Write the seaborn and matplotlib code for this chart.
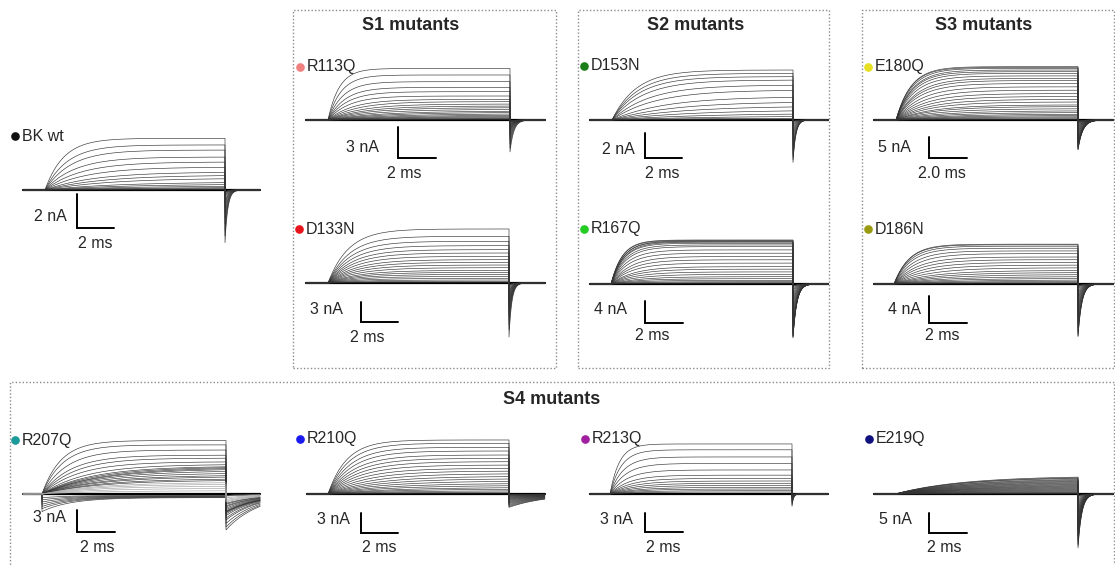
import numpy as np
import pandas as pd
import matplotlib
matplotlib.use("Agg")
import matplotlib.pyplot as plt
import seaborn as sns
from matplotlib.patches import Rectangle

# ---- data (steady-state current per sweep, nA; activation tau, ms) ----
bk_amp = [3.04, 2.65, 2.35, 1.94, 1.65, 1.35, 1.06, 0.88, 0.70, 0.47, 0.35, 0.24, 0.16, 0.10, 0.05, 0.02]
bk_tau = [1.0, 1.2, 1.4, 1.6, 1.9, 2.2, 2.6, 3.0, 3.4, 3.8, 4.2, 4.5, 5.0, 5.0, 5.0, 5.0]

r113q_amp = [5.0, 4.37, 3.72, 3.17, 2.75, 2.33, 2.0, 1.78, 1.55, 1.36, 1.2, 1.04, 0.87, 0.75,
             0.61, 0.49, 0.39, 0.29, 0.19, 0.13, 0.07]
r113q_tau = [0.6, 0.7, 0.8, 0.9, 1.0, 1.1, 1.3, 1.5, 1.7, 1.9, 2.1, 2.4, 2.7, 3.0, 3.3, 3.6,
             4.0, 4.0, 4.0, 4.0, 4.0]

d133n_amp = [8.1, 7.0, 6.25, 5.6, 5.0, 4.5, 4.0, 3.5, 3.1, 2.7, 2.3, 1.9, 1.6, 1.3, 1.0, 0.7,
             0.45, 0.25, 0.1]
d133n_tau = [1.1, 1.15, 1.2, 1.25, 1.3, 1.35, 1.4, 1.45, 1.5, 1.55, 1.6, 1.65, 1.7, 1.75, 1.8,
             1.8, 1.8, 1.8, 1.8]

d153n_amp = [4.0, 3.73, 3.47, 3.2, 2.8, 2.4, 1.87, 1.47, 1.12, 0.8, 0.53, 0.32, 0.16, 0.08]
d153n_tau = [1.3, 1.4, 1.5, 1.7, 2.0, 2.3, 2.8, 3.2, 3.6, 4.0, 4.5, 5.0, 5.0, 5.0]

r167q_amp = [8.0, 7.9, 7.8, 7.7, 7.6, 7.4, 7.1, 6.8, 6.2, 5.6, 5.0, 4.4, 3.8, 3.15, 2.7, 2.2,
             1.76, 1.33, 0.97, 0.67, 0.42, 0.24, 0.12]
r167q_tau = [0.6, 0.6, 0.65, 0.65, 0.7, 0.7, 0.75, 0.8, 0.85, 0.9, 1.0, 1.05, 1.1, 1.2, 1.25,
             1.3, 1.4, 1.5, 1.5, 1.5, 1.5, 1.5, 1.5]

e180q_amp = [12.7, 12.5, 12.3, 11.9, 11.5, 11.1, 10.5, 9.9, 9.4, 8.7, 7.9, 7.1, 6.3, 5.6, 4.9,
             4.3, 3.6, 3.2, 2.7, 2.2, 1.8, 1.4, 1.1, 0.8, 0.55, 0.3, 0.15]
e180q_tau = [0.8, 0.8, 0.85, 0.9, 0.9, 0.95, 1.0, 1.1, 1.15, 1.2, 1.3, 1.4, 1.5, 1.6, 1.7,
             1.8, 1.9, 2.0, 2.2, 2.4, 2.6, 2.8, 3.0, 3.0, 3.0, 3.0, 3.0]

d186n_amp = [5.9, 5.8, 5.6, 5.3, 4.9, 4.5, 4.0, 3.6, 3.2, 2.8, 2.4, 2.0, 1.7, 1.4, 1.1, 0.84,
             0.6, 0.4, 0.25, 0.1]
d186n_tau = [0.8, 0.8, 0.85, 0.9, 1.0, 1.1, 1.2, 1.3, 1.45, 1.6, 1.8, 2.0, 2.2, 2.4, 2.6, 2.8,
             3.0, 3.0, 3.0, 3.0]

r207q_amp = [7.3, 6.7, 6.0, 5.3, 4.9, 4.4, 4.05, 3.8, 3.7, 3.6, 3.45, 3.2, 2.9, 2.6, 2.4, 2.1,
             1.9, 1.6, 1.36, 1.09, 0.78, 0.45,
             -0.5, -0.45, -0.4, -0.35, -0.3, -0.25, -0.2]
r207q_start = [0, 0, 0, 0, 0, 0, 0, 0, 0, 0, 0, 0, 0, 0, 0, 0, 0, 0, 0, 0, 0, 0,
               -2.4, -2.0, -1.7, -1.4, -1.1, -0.8, -0.5]
r207q_tau = [1.0, 1.1, 1.3, 1.5, 1.7, 1.9, 2.3, 2.6, 2.8, 3.0, 3.0, 3.0, 3.0, 3.0, 3.0, 3.0,
             3.0, 3.0, 3.0, 3.0, 3.0, 3.0,
             1.5, 1.5, 1.5, 1.5, 1.5, 1.5, 1.5]

r210q_amp = [8.1, 7.6, 7.0, 6.45, 5.85, 5.35, 4.85, 4.35, 3.85, 3.45, 3.05, 2.65, 2.3, 1.95,
             1.6, 1.3, 1.0, 0.75, 0.5, 0.3, 0.15]
r210q_tau = [1.0, 1.1, 1.2, 1.3, 1.4, 1.5, 1.6, 1.7, 1.8, 2.0, 2.2, 2.4, 2.6, 2.8, 3.0, 3.2,
             3.5, 3.5, 3.5, 3.5, 3.5]

r213q_amp = [7.7, 6.8, 5.7, 4.7, 3.7, 2.9, 2.4, 2.0, 1.65, 1.34, 1.03, 0.77, 0.51, 0.31]
r213q_tau = [0.5, 0.6, 0.7, 0.8, 0.9, 1.0, 1.1, 1.2, 1.3, 1.4, 1.5, 1.5, 1.5, 1.5]

e219q_amp = [4.5, 4.3, 4.15, 3.9, 3.7, 3.5, 3.3, 3.1, 2.9, 2.7, 2.5, 2.3, 2.1, 1.9, 1.7, 1.5,
             1.3, 1.1, 0.9, 0.7, 0.5, 0.35, 0.2, 0.1]
e219q_tau = [3.5, 3.5, 3.5, 3.6, 3.6, 3.7, 3.7, 3.8, 3.8, 3.9, 3.9, 4.0, 4.0, 4.0, 4.0, 4.0,
             4.0, 4.0, 4.0, 4.0, 4.0, 4.0, 4.0, 4.0]

# tail current peak (nA, for the largest sweep) and its decay (ms)
tail_peak = {"BK wt": 3.1, "R113Q": 3.1, "D133N": 8.1, "D153N": 3.4, "R167Q": 9.8,
             "E180Q": 7.1, "D186N": 7.8, "R207Q": 4.9, "R210Q": 2.0, "R213Q": 1.9,
             "E219Q": 13.5}
tail_tau = {"BK wt": 0.15, "R113Q": 0.2, "D133N": 0.15, "D153N": 0.15, "R167Q": 0.2,
            "E180Q": 0.25, "D186N": 0.2, "R207Q": 1.7, "R210Q": 2.0, "R213Q": 0.08,
            "E219Q": 0.2}

dot_colors = {"BK wt": "#111111", "R113Q": "#f08080", "D133N": "#e8141b", "D153N": "#1a7f1a",
              "R167Q": "#22cc22", "E180Q": "#e6e020", "D186N": "#9a9a10", "R207Q": "#1a9a9a",
              "R210Q": "#1a1aee", "R213Q": "#a020a0", "E219Q": "#10107f"}

bar_na = {"BK wt": 2, "R113Q": 3, "D133N": 3, "D153N": 2, "R167Q": 4, "E180Q": 5,
          "D186N": 4, "R207Q": 3, "R210Q": 3, "R213Q": 3, "E219Q": 5}
bar_ms_label = {"E180Q": "2.0 ms"}

PULSE_MS = 9.7
W, H = 1115, 565

# ---- layout in pixels: origin (pulse start, baseline), pulse end, trace extent, px per nA ----
panels = [
    dict(name="BK wt", amp=bk_amp, tau=bk_tau, ox=45, oy=190, end=225, pre=23, post=260, ppn=17,
         bar=(77, 228), dot=(15, 136), na=(50, 216), ms=(95, 243)),
    dict(name="R113Q", amp=r113q_amp, tau=r113q_tau, ox=328, oy=120, end=510, pre=306, post=545,
         ppn=10.3, bar=(398, 158), dot=(300, 67), na=(362, 147), ms=(404, 174)),
    dict(name="D133N", amp=d133n_amp, tau=d133n_tau, ox=328, oy=283, end=509, pre=306, post=545,
         ppn=6.67, bar=(361, 322), dot=(299, 229), na=(326, 310), ms=(367, 337)),
    dict(name="D153N", amp=d153n_amp, tau=d153n_tau, ox=612, oy=120, end=793, pre=590, post=828,
         ppn=12.5, bar=(645, 158), dot=(584, 66), na=(618, 149), ms=(662, 174)),
    dict(name="R167Q", amp=r167q_amp, tau=r167q_tau, ox=611, oy=284, end=793, pre=590, post=828,
         ppn=5.5, bar=(645, 323), dot=(584, 229), na=(610, 310), ms=(652, 336)),
    dict(name="E180Q", amp=e180q_amp, tau=e180q_tau, ox=896, oy=120, end=1078, pre=874, post=1113,
         ppn=4.2, bar=(929, 158), dot=(868, 67), na=(894, 148), ms=(942, 174)),
    dict(name="D186N", amp=d186n_amp, tau=d186n_tau, ox=894, oy=284, end=1078, pre=874, post=1113,
         ppn=6.75, bar=(929, 323), dot=(868, 229), na=(904, 310), ms=(942, 336)),
    dict(name="R207Q", amp=r207q_amp, tau=r207q_tau, start=r207q_start, ox=42, oy=494, end=226,
         pre=23, post=260, ppn=7.33, bar=(77, 532), dot=(15, 440), na=(49, 518), ms=(97, 547),
         gray_below=1.7),
    dict(name="R210Q", amp=r210q_amp, tau=r210q_tau, ox=328, oy=494, end=509, pre=307, post=545,
         ppn=6.67, bar=(361, 533), dot=(300, 439), na=(333, 520), ms=(379, 548)),
    dict(name="R213Q", amp=r213q_amp, tau=r213q_tau, ox=610, oy=494, end=792, pre=590, post=828,
         ppn=6.5, bar=(645, 532), dot=(585, 439), na=(616, 520), ms=(663, 548)),
    dict(name="E219Q", amp=e219q_amp, tau=e219q_tau, ox=895, oy=494, end=1078, pre=874, post=1113,
         ppn=4.0, bar=(929, 533), dot=(869, 439), na=(895, 520), ms=(944, 548)),
]

boxes = [(293, 10, 556, 368), (578, 10, 829, 368), (862, 10, 1114, 368), (10, 382, 1114, 566)]
titles = [("S1 mutants", 411, 25), ("S2 mutants", 696, 25), ("S3 mutants", 984, 25),
          ("S4 mutants", 552, 399)]

sns.set_theme(style="white")
plt.rcParams["font.family"] = ["Liberation Sans", "DejaVu Sans"]

fig = plt.figure(figsize=(W / 100, H / 100), dpi=100)
fig.patch.set_facecolor("white")

for x0, y0, x1, y1 in boxes:
    fig.patches.append(Rectangle((x0 / W, 1 - y1 / H), (x1 - x0) / W, (y1 - y0) / H,
                                 transform=fig.transFigure, fill=False, ec="#8c8c8c",
                                 lw=1.0, ls=(0, (1, 1.5))))
for txt, x, y in titles:
    fig.text(x / W, 1 - y / H, txt, ha="center", va="center", fontsize=13, fontweight="bold")


def sweeps(p):
    pxms = (p["end"] - p["ox"]) / PULSE_MS
    pre_ms = -(p["ox"] - p["pre"]) / pxms
    post_ms = (p["post"] - p["end"]) / pxms
    starts = p.get("start", [0] * len(p["amp"]))
    amax = max(p["amp"])
    frames = []
    dt = 0.02
    for k, (a, tau, s0) in enumerate(zip(p["amp"], p["tau"], starts)):
        t_on = np.arange(0, PULSE_MS + dt / 2, dt)
        i_on = a + (s0 - a) * np.exp(-t_on / tau)
        t_off = np.arange(0, post_ms + dt / 2, dt)
        tail = tail_peak[p["name"]] * max(a, 0.04 * amax) / amax
        i_off = -tail * np.exp(-t_off / tail_tau[p["name"]])
        t = np.concatenate([[pre_ms, 0.0], t_on, PULSE_MS + t_off])
        cur = np.concatenate([[0.0, 0.0], i_on, i_off])
        tone = "light" if abs(a) < p.get("gray_below", -1) and s0 == 0 else "dark"
        frames.append(pd.DataFrame({"t": t, "I": cur, "sweep": k, "tone": tone}))
    return pd.concat(frames, ignore_index=True), pxms, pre_ms, post_ms


for p in panels:
    df, pxms, pre_ms, post_ms = sweeps(p)
    ox, oy, ppn = p["ox"], p["oy"], p["ppn"]
    left, right, top, bottom = ox - 45, p["end"] + 55, oy - 75, oy + 75
    ax = fig.add_axes([left / W, 1 - bottom / H, (right - left) / W, (bottom - top) / H])
    ax.set_xlim((left - ox) / pxms, (right - ox) / pxms)
    ax.set_ylim(-(bottom - oy) / ppn, (oy - top) / ppn)
    ax.axis("off")
    ax.patch.set_visible(False)

    ax.plot([pre_ms, PULSE_MS + post_ms], [0, 0], color="black", lw=1.6, zorder=1)
    sns.lineplot(data=df, x="t", y="I", units="sweep", hue="tone", estimator=None, sort=False,
                 palette={"dark": "#333333", "light": "#a0a0a0"}, lw=0.45, legend=False, ax=ax)

    # scale bar
    bx = (p["bar"][0] - ox) / pxms
    by = -(p["bar"][1] - oy) / ppn
    ax.plot([bx, bx, bx + 2], [by + bar_na[p["name"]], by, by], color="black", lw=1.4,
            solid_joinstyle="miter", clip_on=False)

    def txt(xy, s, **kw):
        ax.text((xy[0] - ox) / pxms, -(xy[1] - oy) / ppn, s, fontsize=11.5, **kw)

    txt(p["na"], f"{bar_na[p['name']]} nA", ha="center", va="center")
    txt(p["ms"], bar_ms_label.get(p["name"], "2 ms"), ha="center", va="center")
    ax.plot([(p["dot"][0] - ox) / pxms], [-(p["dot"][1] - oy) / ppn], "o", ms=5.2,
            color=dot_colors[p["name"]], clip_on=False)
    txt((p["dot"][0] + 7, p["dot"][1]), p["name"], ha="left", va="center")

fig.savefig("out.png", dpi=100, facecolor="white")
